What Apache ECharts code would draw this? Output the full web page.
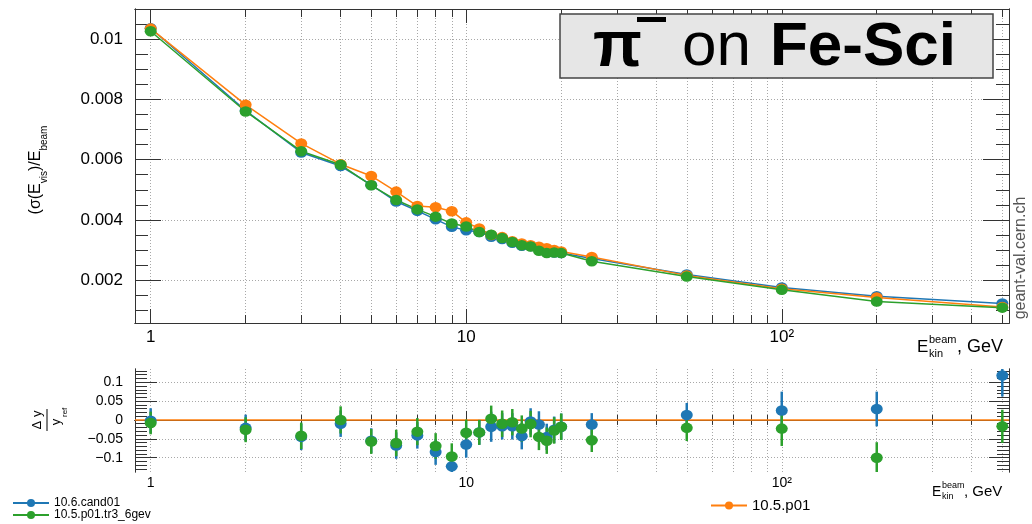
<!DOCTYPE html>
<html><head><meta charset="utf-8">
<script src="https://cdn.jsdelivr.net/npm/echarts@6/dist/echarts.min.js"></script>
<style>html,body{margin:0;padding:0;background:#fff}#c{width:1032px;height:524px}</style>
</head><body><div id="c"></div><script>
// ---------- data ----------
const energies = [1,2,3,4,5,6,7,8,9,10,11,12,13,14,15,16,17,18,19,20,25,50,100,200,500];
const resCand01 = [0.01036,0.00763,0.00624,0.00579,0.00516,0.00461,0.00430,0.00402,0.00377,0.00366,0.00360,0.00344,0.00337,0.00324,0.00314,0.00313,0.00306,0.00293,0.00292,0.00290,0.00272,0.00219,0.00176,0.00147,0.00123];
const resP01     = [0.01035,0.00782,0.00654,0.00585,0.00546,0.00494,0.00446,0.00442,0.00429,0.00392,0.00372,0.00350,0.00343,0.00329,0.00322,0.00316,0.00311,0.00306,0.00300,0.00295,0.00277,0.00216,0.00172,0.00143,0.00111];
const resTr3     = [0.01026,0.00760,0.00628,0.00583,0.00515,0.00466,0.00435,0.00411,0.00388,0.00378,0.00360,0.00351,0.00340,0.00327,0.00316,0.00312,0.00298,0.00290,0.00292,0.00290,0.00263,0.00212,0.00168,0.00129,0.00109];
const ratioCand01 = [-0.002,-0.021,-0.045,-0.010,-0.055,-0.068,-0.041,-0.085,-0.123,-0.065,-0.033,-0.018,-0.017,-0.017,-0.043,-0.004,-0.012,-0.045,-0.026,-0.018,-0.012,0.013,0.025,0.029,0.118];
const errCand01   = [0.033,0.035,0.035,0.035,0.033,0.035,0.035,0.034,0.035,0.035,0.033,0.040,0.035,0.035,0.035,0.035,0.035,0.035,0.035,0.035,0.030,0.032,0.050,0.046,0.056];
const ratioTr3    = [-0.008,-0.026,-0.042,0.000,-0.057,-0.061,-0.031,-0.069,-0.097,-0.034,-0.033,0.003,-0.010,-0.006,-0.023,-0.011,-0.045,-0.055,-0.028,-0.018,-0.054,-0.021,-0.023,-0.100,-0.017];
const errTr3      = [0.030,0.033,0.035,0.036,0.033,0.035,0.036,0.034,0.035,0.035,0.033,0.035,0.035,0.035,0.035,0.035,0.035,0.035,0.035,0.035,0.031,0.035,0.046,0.041,0.044];
const seriesNames = ['10.6.cand01','10.5.p01.tr3_6gev','10.5.p01'];
const xLabelTicks = [1,10,100];
const xMinorTicks = [1,2,3,4,5,6,7,8,9,10,20,30,40,50,60,70,80,90,100,200,300,400,500];
const yTopLabels = [0.002,0.004,0.006,0.008,0.01];
const yTopMinor = [0.001,0.0015,0.0025,0.003,0.0035,0.0045,0.005,0.0055,0.0065,0.007,0.0075,0.0085,0.009,0.0095,0.0105];
const yLowLabels = [-0.1,-0.05,0,0.05,0.1];
const yLowMinor = [-0.13,-0.12,-0.11,-0.09,-0.08,-0.07,-0.06,-0.04,-0.03,-0.02,-0.01,0.01,0.02,0.03,0.04,0.06,0.07,0.08,0.09,0.11,0.12,0.13];

// ---------- style ----------
const F = 'Liberation Sans, Arial, sans-serif';
const BLUE = '#1f77b4', ORANGE = '#ff7f0e', GREEN = '#2ca02c';
const AX = '#333';
const GRIDLINE = {show:true, lineStyle:{color:'#a8a8a8', type:[1,2], width:1}};
const XMIN = 0.892, XMAX = 525;

function xAx(grid, opts) {
  return Object.assign({
    type:'log', logBase:10, gridIndex:grid, min:XMIN, max:XMAX, position:'bottom',
    axisLine:{show:true, lineStyle:{color:AX, width:1}},
    axisLabel:{show:false}, splitLine:{show:false}, minorTick:{show:false}
  }, opts);
}
function yAx(grid, min, max, opts) {
  return Object.assign({
    type:'value', gridIndex:grid, min:min, max:max, position:'left',
    axisLine:{show:true, lineStyle:{color:AX, width:1}},
    axisLabel:{show:false}, splitLine:{show:false}
  }, opts);
}
const xFmt = v => { const r = Math.round(v); return r === 100 ? '10\u00b2' : String(r); };
const yFmtTop = v => String(+v.toPrecision(3));
const yFmtLow = v => { const r = +v.toPrecision(3); return r < 0 ? '\u2212' + String(-r) : String(r); };

const xAxes = [
  // top panel
  xAx(0, {axisTick:{inside:true, length:8, customValues:xMinorTicks, lineStyle:{color:AX}}, splitLine:GRIDLINE}),
  xAx(0, {axisTick:{inside:true, length:14, customValues:xLabelTicks, lineStyle:{color:AX}},
          axisLabel:{show:true, customValues:xLabelTicks, formatter:xFmt, color:'#000', fontFamily:F, fontSize:17, margin:6}}),
  xAx(0, {position:'top', axisTick:{inside:true, length:8, customValues:xMinorTicks, lineStyle:{color:AX}}}),
  xAx(0, {position:'top', axisTick:{inside:true, length:14, customValues:xLabelTicks, lineStyle:{color:AX}}}),
  // lower panel
  xAx(1, {axisTick:{inside:true, length:5, customValues:xMinorTicks, lineStyle:{color:AX}}, splitLine:GRIDLINE}),
  xAx(1, {axisTick:{inside:true, length:9, customValues:xLabelTicks, lineStyle:{color:AX}},
          axisLabel:{show:true, customValues:xLabelTicks, formatter:xFmt, color:'#000', fontFamily:F, fontSize:14, margin:4}}),
  xAx(1, {position:'top', axisTick:{inside:true, length:5, customValues:xMinorTicks, lineStyle:{color:AX}}}),
  xAx(1, {position:'top', axisTick:{inside:true, length:9, customValues:xLabelTicks, lineStyle:{color:AX}}})
];
const YT0 = 0.00058, YT1 = 0.011, YL0 = -0.138, YL1 = 0.135;
const yAxes = [
  yAx(0, YT0, YT1, {axisTick:{inside:true, length:26, customValues:yTopLabels, lineStyle:{color:AX}}, splitLine:GRIDLINE,
          axisLabel:{show:true, customValues:yTopLabels, formatter:yFmtTop, color:'#000', fontFamily:F, fontSize:17, margin:12}}),
  yAx(0, YT0, YT1, {axisTick:{inside:true, length:13, customValues:yTopMinor, lineStyle:{color:AX}}}),
  yAx(0, YT0, YT1, {position:'right', axisTick:{inside:true, length:26, customValues:yTopLabels, lineStyle:{color:AX}}}),
  yAx(0, YT0, YT1, {position:'right', axisTick:{inside:true, length:13, customValues:yTopMinor, lineStyle:{color:AX}}}),
  yAx(1, YL0, YL1, {axisTick:{inside:true, length:22, customValues:yLowLabels, lineStyle:{color:AX}}, splitLine:GRIDLINE,
          axisLabel:{show:true, customValues:yLowLabels, formatter:yFmtLow, color:'#000', fontFamily:F, fontSize:14, margin:12}}),
  yAx(1, YL0, YL1, {axisTick:{inside:true, length:12, customValues:yLowMinor, lineStyle:{color:AX}}}),
  yAx(1, YL0, YL1, {position:'right', axisTick:{inside:true, length:20, customValues:yLowLabels, lineStyle:{color:AX}}}),
  yAx(1, YL0, YL1, {position:'right', axisTick:{inside:true, length:12, customValues:yLowMinor, lineStyle:{color:AX}}})
];

function topLine(name, vals, color) {
  return {type:'line', name:name, xAxisIndex:0, yAxisIndex:0,
    data: energies.map((e,i)=>[e, vals[i]]),
    symbol:'circle', symbolSize:[12,10.5], showSymbol:true,
    itemStyle:{color:color}, lineStyle:{color:color, width:1.5}, z:3};
}
function errBars(name, vals, errs, color) {
  return {type:'custom', name:name, xAxisIndex:4, yAxisIndex:4, clip:true,
    data: energies.map((e,i)=>[e, vals[i], errs[i]]),
    encode:{x:0, y:1},
    renderItem:(params, api) => {
      const x = api.value(0), y = api.value(1), er = api.value(2);
      const a = api.coord([x, y+er]), b = api.coord([x, y-er]);
      return {type:'line', shape:{x1:a[0], y1:a[1], x2:b[0], y2:b[1]}, style:{stroke:color, lineWidth:2.5}};
    }, z:3};
}
function ratioPts(name, vals, color, extra) {
  return Object.assign({type:'scatter', name:name, xAxisIndex:4, yAxisIndex:4,
    data: energies.map((e,i)=>[e, vals[i]]),
    symbol:'circle', symbolSize:[12,10.5], itemStyle:{color:color, opacity:1}, z:4}, extra || {});
}
function legendItem(name, left, top, size) {
  return {data:[name], left:left, top:top, padding:0, itemWidth:36, itemHeight:10, itemGap:0,
    textStyle:{fontFamily:F, fontSize:size, color:'#000', lineHeight:12}};
}

const option = {
  animation:false,
  backgroundColor:'#fff',
  textStyle:{fontFamily:F},
  grid:[
    {left:135, top:9, width:874, height:314},
    {left:135, top:369, width:874, height:103}
  ],
  xAxis:xAxes,
  yAxis:yAxes,
  legend:[
    legendItem(seriesNames[0], 12, 497, 12),
    legendItem(seriesNames[1], 12, 509, 12),
    legendItem(seriesNames[2], 710, 498, 15)
  ],
  series:[
    topLine(seriesNames[0], resCand01, BLUE),
    topLine(seriesNames[2], resP01, ORANGE),
    topLine(seriesNames[1], resTr3, GREEN),
    errBars(seriesNames[0], ratioCand01, errCand01, BLUE),
    ratioPts(seriesNames[0], ratioCand01, BLUE, {
      markLine:{silent:true, symbol:'none', label:{show:false}, z:2,
        lineStyle:{color:ORANGE, width:1.5, type:'solid'}, data:[{yAxis:0}]}}),
    errBars(seriesNames[1], ratioTr3, errTr3, GREEN),
    ratioPts(seriesNames[1], ratioTr3, GREEN)
  ],
  graphic:[
    // title box
    {type:'rect', shape:{x:560, y:14, width:433, height:64}, style:{fill:'#e6e6e6', stroke:'#444', lineWidth:1.5}, z:10},
    {type:'text', x:593, y:48, style:{text:'\u03c0', font:'bold 64px ' + F, fill:'#000', verticalAlign:'middle'}, z:11},
    {type:'rect', shape:{x:637, y:17, width:29, height:5}, style:{fill:'#000'}, z:11},
    {type:'text', x:682, y:48, style:{text:'on', font:'62px ' + F, fill:'#000', verticalAlign:'middle'}, z:11},
    {type:'text', x:770, y:48, style:{text:'Fe-Sci', font:'bold 62px ' + F, fill:'#000', verticalAlign:'middle'}, z:11},
    // watermark
    {type:'text', x:1021, y:258, rotation:Math.PI/2, style:{text:'geant-val.cern.ch', font:'16px ' + F, fill:'#555', align:'center', verticalAlign:'middle'}, z:11},
    // top y title
    {type:'text', x:36, y:170, rotation:Math.PI/2, style:{
      text:'{m|(\u03c3(E}{s|vis}{m|)/E}{s|beam}', align:'center', verticalAlign:'middle',
      rich:{m:{fontSize:16, fontFamily:F, fill:'#000', lineHeight:26, verticalAlign:'middle'},
            s:{fontSize:10, fontFamily:F, fill:'#000', lineHeight:26, verticalAlign:'bottom'}}}, z:11},
    // lower y title: fraction
    {type:'group', x:47, y:420, rotation:Math.PI/2, z:11, children:[
      {type:'text', x:0, y:-10, style:{text:'\u0394 y', font:'13px ' + F, fill:'#000', align:'center', verticalAlign:'middle'}},
      {type:'line', shape:{x1:-11, y1:0, x2:11, y2:0}, style:{stroke:'#000', lineWidth:1}},
      {type:'text', x:-2, y:9, style:{text:'y', font:'13px ' + F, fill:'#000', align:'center', verticalAlign:'middle'}},
      {type:'text', x:3, y:18, style:{text:'ref', font:'8px ' + F, fill:'#000', align:'left', verticalAlign:'middle'}}
    ]},
    // top x title
    {type:'text', x:917, y:347, style:{text:'E', font:'17px ' + F, fill:'#000', verticalAlign:'middle'}, z:11},
    {type:'text', x:929, y:340, style:{text:'beam', font:'11px ' + F, fill:'#000', verticalAlign:'middle'}, z:11},
    {type:'text', x:929, y:354, style:{text:'kin', font:'11px ' + F, fill:'#000', verticalAlign:'middle'}, z:11},
    {type:'text', x:957, y:347, style:{text:', GeV', font:'18px ' + F, fill:'#000', verticalAlign:'middle'}, z:11},
    // lower x title
    {type:'text', x:932, y:492, style:{text:'E', font:'14px ' + F, fill:'#000', verticalAlign:'middle'}, z:11},
    {type:'text', x:942, y:486, style:{text:'beam', font:'9px ' + F, fill:'#000', verticalAlign:'middle'}, z:11},
    {type:'text', x:942, y:497, style:{text:'kin', font:'9px ' + F, fill:'#000', verticalAlign:'middle'}, z:11},
    {type:'text', x:964, y:492, style:{text:', GeV', font:'15px ' + F, fill:'#000', verticalAlign:'middle'}, z:11}
  ]
};
const chart = echarts.init(document.getElementById('c'), null, {renderer:'canvas'});
chart.setOption(option);
</script></body></html>
